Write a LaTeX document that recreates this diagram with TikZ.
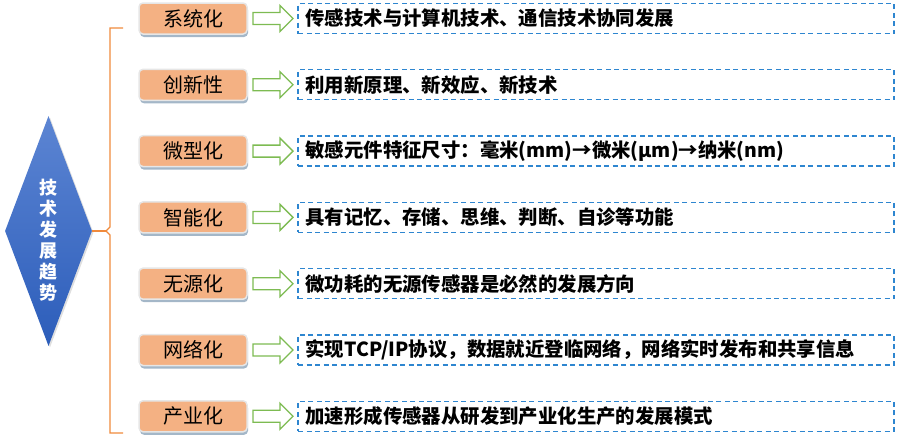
\documentclass[tikz,border=0pt]{standalone}
\usepackage{fontspec}
\setmainfont{Noto Sans CJK SC}
\usetikzlibrary{shapes.geometric,shadows}
\definecolor{boxfill}{HTML}{F4B183}
\definecolor{boxline}{HTML}{E6E6E6}
\definecolor{shadowc}{HTML}{9AAFC2}
\definecolor{arrgreen}{HTML}{7DBB52}
\definecolor{dashblue}{HTML}{2E86D0}
\definecolor{braceor}{HTML}{F08A3C}
\definecolor{dtop}{HTML}{5C85D3}
\definecolor{dbot}{HTML}{2C5DBA}
\tikzset{
  catbox/.style={rectangle, rounded corners=4pt, fill=boxfill, draw=boxline, line width=1.5pt,
    minimum width=108pt, minimum height=31pt, inner sep=0pt, font=\fontsize{20}{22}\selectfont,
    drop shadow={fill=shadowc, opacity=0.9, shadow xshift=1pt, shadow yshift=-3pt}},
  descbox/.style={rectangle, draw=dashblue, line width=1.3pt, dash pattern=on 5pt off 3.5pt,
    minimum width=596pt, minimum height=30pt, inner sep=0pt},
  desctext/.style={anchor=west, inner sep=0pt, font=\fontsize{19.4}{22}\selectfont\bfseries},
  greenarr/.style={draw=arrgreen, fill=white, line width=1.3pt, line join=miter},
  bracel/.style={draw=braceor, line width=1.4pt},
}
\begin{document}
\begin{tikzpicture}[x=1pt,y=-1pt]
\useasboundingbox (0,0) rectangle (899,445);
% diamond
\node[diamond, minimum width=87pt, minimum height=230pt, inner sep=0pt, aspect=0.378,
  top color=dtop, bottom color=dbot, draw=none,
  drop shadow={opacity=0.25, shadow xshift=1.5pt, shadow yshift=-1.5pt}] (d) at (48.5,231) {};
\node[text=white, font=\fontsize{18}{21}\selectfont\bfseries, align=center, inner sep=0pt] (dt) at ([yshift=-9pt]d.center) {技\\术\\发\\展\\趋\\势};
% brace
\coordinate (btop) at (123,28);
\coordinate (bbot) at (123,433);
\coordinate (bmid) at (106,231);
\draw[bracel] (btop) -- (110,28) -- (110,227) -- (bmid) -- (110,235) -- (110,433) -- (bbot);
\draw[bracel] (d.east) -- (bmid);
% rows
\foreach \i/\lab/\txt in {
  1/系统化/{传感技术与计算机技术、通信技术协同发展},
  2/创新性/{利用新原理、新效应、新技术},
  3/微型化/{敏感元件特征尺寸：毫米(mm)→微米(μm)→纳米(nm)},
  4/智能化/{具有记忆、存储、思维、判断、自诊等功能},
  5/无源化/{微功耗的无源传感器是必然的发展方向},
  6/网络化/{实现TCP/IP协议，数据就近登临网络，网络实时发布和共享信息},
  7/产业化/{加速形成传感器从研发到产业化生产的发展模式}}{
  \pgfmathsetmacro{\yy}{18.5+66.3*(\i-1)}
  \node[catbox] (b\i) at (193,\yy) {\lab};
  \node[descbox] (t\i) at (596,\yy) {};
  \node[desctext] (tt\i) at ([xshift=8pt]t\i.west) {\txt};
  \draw[greenarr] (253,\yy-6) -- (280,\yy-6) -- (280,\yy-13) -- (293,\yy) -- (280,\yy+13) -- (280,\yy+6) -- (253,\yy+6) -- cycle;
}
\end{tikzpicture}
\end{document}
